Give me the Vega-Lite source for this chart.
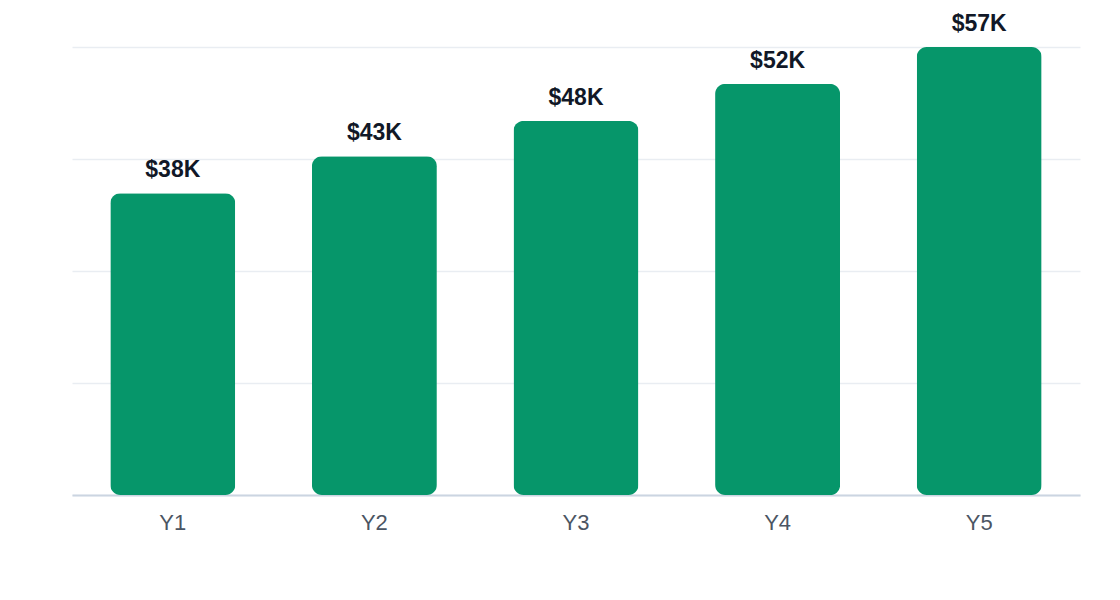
{
  "$schema": "https://vega.github.io/schema/vega-lite/v6.json",
  "autosize": "none",
  "width": 1008,
  "height": 448,
  "padding": {"left": 72, "top": 47, "right": 40, "bottom": 105},
  "background": "white",
  "data": {
    "values": [
      {"year": "Y1", "value": 38400, "label": "$38K"},
      {"year": "Y2", "value": 43100, "label": "$43K"},
      {"year": "Y3", "value": 47600, "label": "$48K"},
      {"year": "Y4", "value": 52300, "label": "$52K"},
      {"year": "Y5", "value": 57000, "label": "$57K"}
    ]
  },
  "encoding": {
    "x": {
      "field": "year",
      "type": "nominal",
      "sort": null,
      "scale": {"paddingInner": 0.38, "paddingOuter": 0.19},
      "axis": {
        "title": null,
        "labelAngle": 0,
        "labelFont": "Liberation Sans",
        "labelFontSize": 22,
        "labelColor": "#4b5563",
        "labelPadding": 17,
        "ticks": false,
        "domainColor": "#cbd5e1",
        "domainWidth": 2
      }
    },
    "y": {
      "field": "value",
      "type": "quantitative",
      "scale": {"domain": [0, 57000], "nice": false, "zero": true},
      "axis": {
        "title": null,
        "labels": false,
        "ticks": false,
        "domain": false,
        "values": [0, 14250, 28500, 42750, 57000],
        "gridColor": "#e9edf2",
        "gridWidth": 1.5
      }
    }
  },
  "layer": [
    {
      "mark": {"type": "bar", "color": "#06966a", "cornerRadius": 10}
    },
    {
      "mark": {
        "type": "text",
        "baseline": "alphabetic",
        "dy": -16,
        "font": "Liberation Sans",
        "fontSize": 23,
        "fontWeight": "bold",
        "color": "#111827"
      },
      "encoding": {"text": {"field": "label"}}
    }
  ],
  "config": {"view": {"stroke": null}}
}
